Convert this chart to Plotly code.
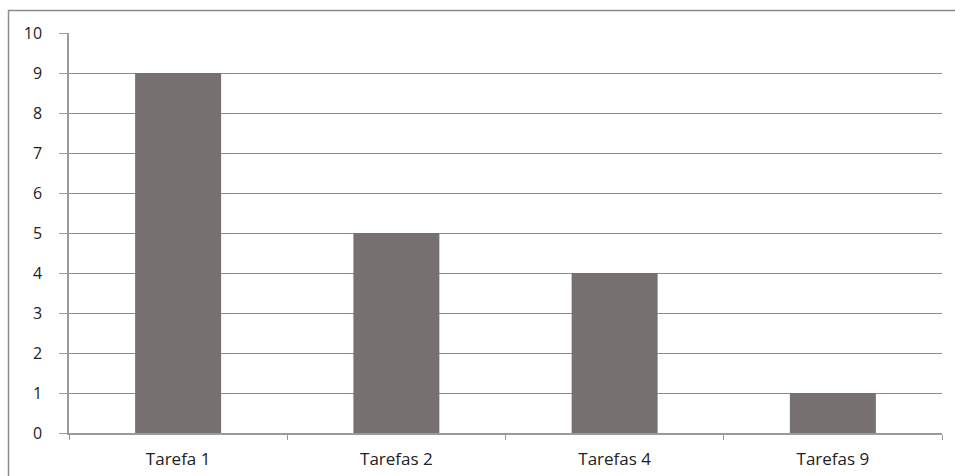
import plotly.graph_objects as go

categories = ["Tarefa 1", "Tarefas 2", "Tarefas 4", "Tarefas 9"]
values = [9, 5, 4, 1]
y_ticks = list(range(0, 11))

fig = go.Figure(go.Bar(x=categories, y=values, marker=dict(color="#767170", line=dict(width=0)), width=0.394))

fig.update_layout(
    width=955, height=476,
    margin=dict(l=69, r=13, t=33, b=43),
    paper_bgcolor="white", plot_bgcolor="white",
    font=dict(family="Open Sans", size=17, color="#222222"),
    showlegend=False,
    shapes=[dict(type="rect", xref="paper", yref="paper", x0=-0.0693, x1=1.03, y0=-0.3, y1=1.0565,
                 line=dict(color="#8a8a8a", width=1.5), fillcolor="rgba(0,0,0,0)", layer="below")],
)
fig.update_xaxes(
    showline=True, linecolor="#9a9a9a", linewidth=1.5,
    ticks="outside", ticklen=5, tickcolor="#9a9a9a", tickson="boundaries",
    showgrid=False, tickfont=dict(size=17), ticklabelstandoff=10, automargin=False,
)
fig.update_yaxes(
    range=[0, 10], tickvals=y_ticks, showline=True, linecolor="#9a9a9a", linewidth=1.5,
    ticks="outside", ticklen=8, tickcolor="#9a9a9a",
    showgrid=True, gridcolor="#8c8c8c", gridwidth=1, zeroline=False,
    ticklabelstandoff=14, tickfont=dict(size=16), automargin=False,
)
fig.write_html("out.html")
